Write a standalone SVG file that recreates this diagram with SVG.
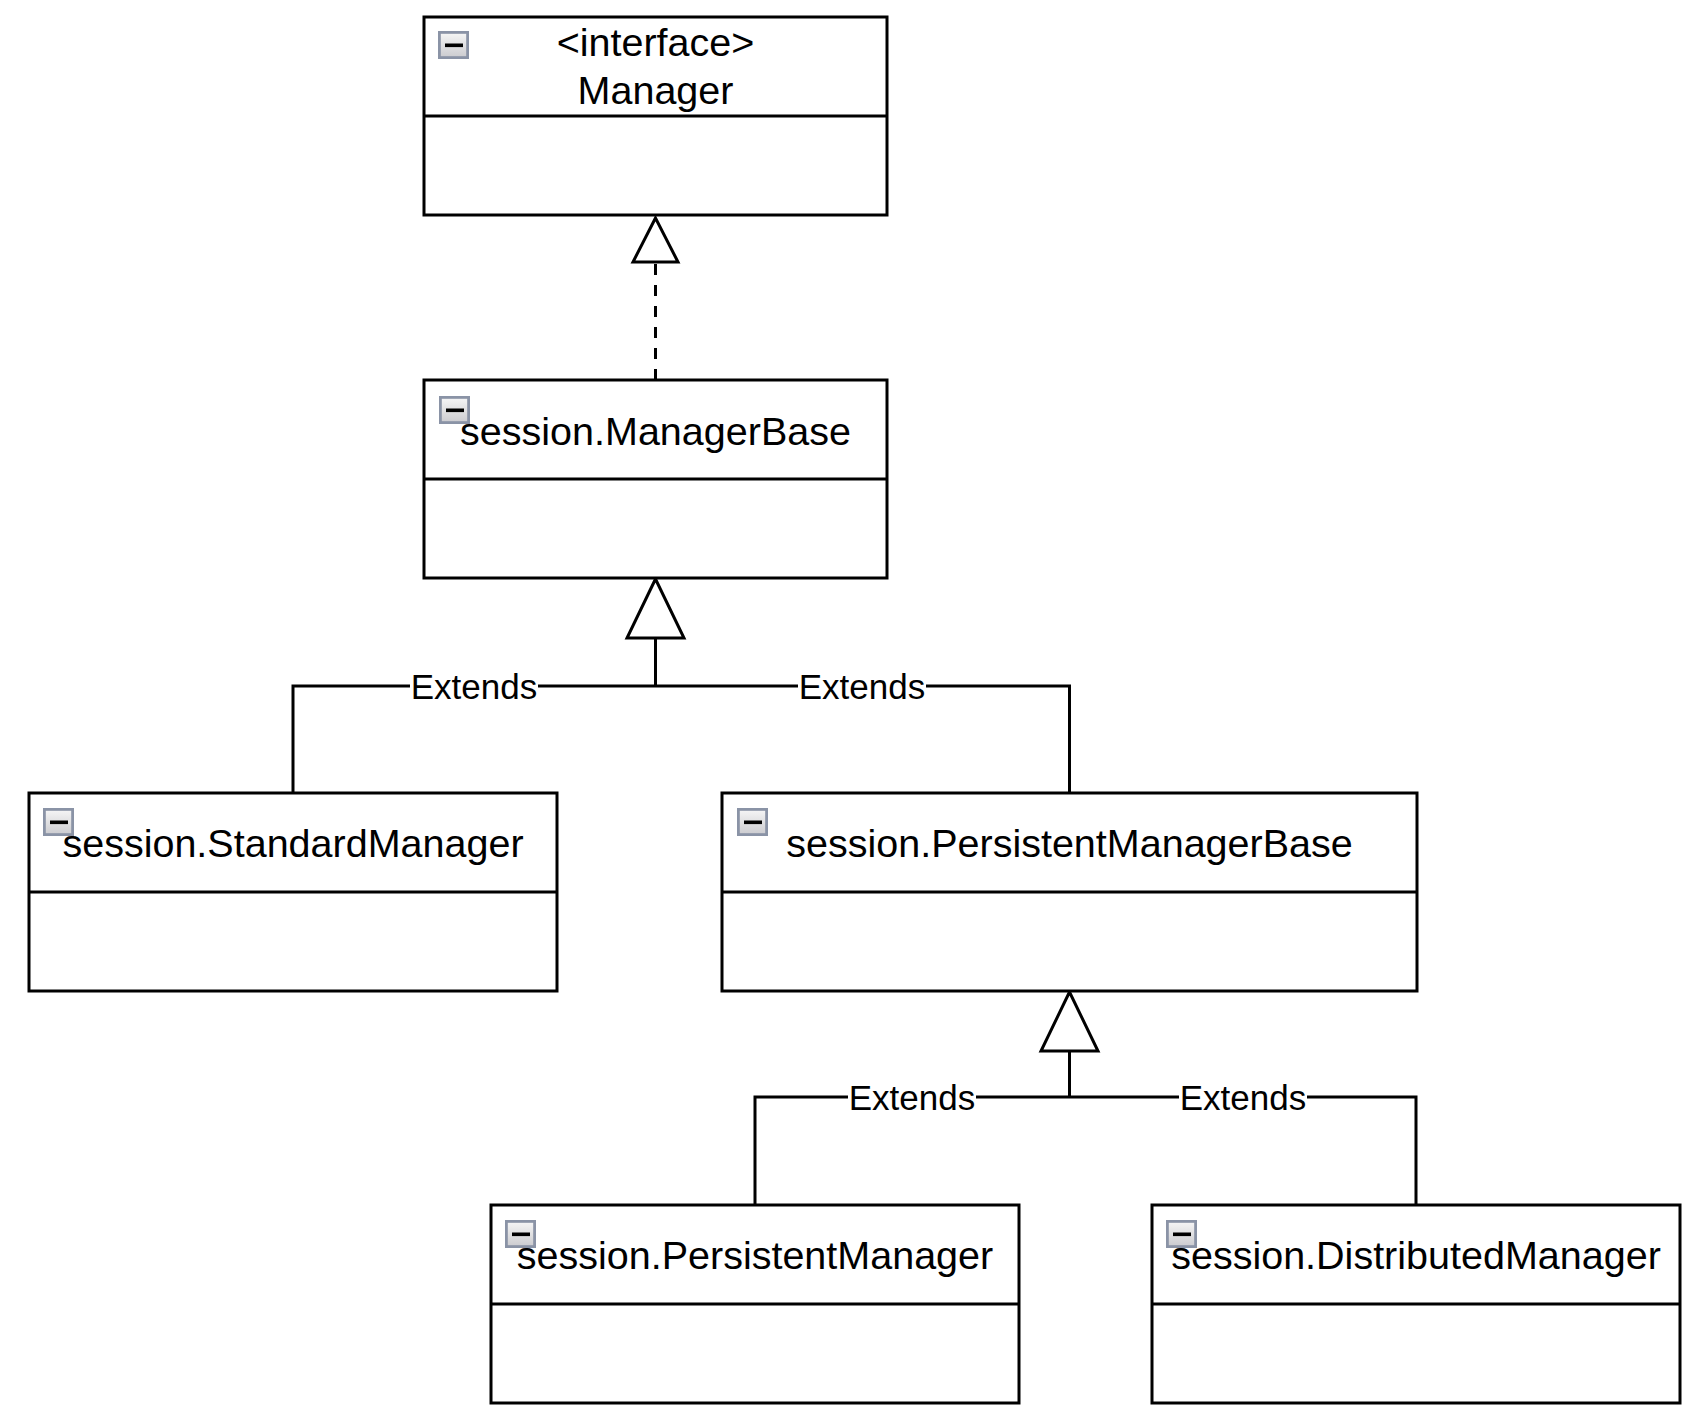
<svg xmlns="http://www.w3.org/2000/svg" width="1692" height="1426" viewBox="0 0 1692 1426">
<defs>
<linearGradient id="ig" x1="0" y1="0" x2="0" y2="1">
<stop offset="0" stop-color="#f6f6f6"/>
<stop offset="1" stop-color="#cbcbcf"/>
</linearGradient>
<g id="icon">
<rect x="1.4" y="1.4" width="28.2" height="25.2" fill="url(#ig)" stroke="#8a93a6" stroke-width="2.8"/>
<rect x="7" y="12.5" width="18" height="3.6" fill="#000"/>
</g>
</defs>
<style>
.box{fill:#fff;stroke:#000;stroke-width:3}
.div{stroke:#000;stroke-width:3;fill:none}
.t{font-family:"Liberation Sans",Arial,Helvetica,sans-serif;font-size:39.5px;fill:#000;text-anchor:middle}
.lbl{font-family:"Liberation Sans",Arial,Helvetica,sans-serif;font-size:35px;fill:#000;text-anchor:middle}
.edge{fill:none;stroke:#000;stroke-width:3}
.dash{stroke-dasharray:11 10}
.tri{fill:#fff;stroke:#000;stroke-width:3;stroke-linejoin:miter}
.lblbg{fill:#fff}
</style>
<rect width="1692" height="1426" fill="#fff"/>
<g id="connectors">
<path class="edge dash" d="M655.5 380 V262"/>
<polygon class="tri" points="655.5,218 633,262 678,262"/>
<path class="edge" d="M293 793 V686 H1069.5 V793"/>
<path class="edge" d="M655.5 638 V686"/>
<polygon class="tri" points="655.5,579 627,638 684,638"/>
<rect class="lblbg" x="410" y="670" width="128" height="32"/>
<text class="lbl" x="474" y="699">Extends</text>
<rect class="lblbg" x="798" y="670" width="128" height="32"/>
<text class="lbl" x="862" y="699">Extends</text>
<path class="edge" d="M755 1205 V1097 H1416 V1205"/>
<path class="edge" d="M1069.5 1051 V1097"/>
<polygon class="tri" points="1069.5,992 1041,1051 1098,1051"/>
<rect class="lblbg" x="848" y="1081" width="128" height="32"/>
<text class="lbl" x="912" y="1110">Extends</text>
<rect class="lblbg" x="1179" y="1081" width="128" height="32"/>
<text class="lbl" x="1243" y="1110">Extends</text>
</g>
<g id="node-manager">
<rect class="box" x="424" y="17" width="463" height="198"/>
<path class="div" d="M424 116 H887"/>
<use href="#icon" x="438" y="31"/>
<text class="t" x="655.5" y="56">&lt;interface&gt;</text>
<text class="t" x="655.5" y="104">Manager</text>
</g>
<g id="node-managerbase">
<rect class="box" x="424" y="380" width="463" height="198"/>
<path class="div" d="M424 479 H887"/>
<use href="#icon" x="439" y="396"/>
<text class="t" x="655.5" y="445">session.ManagerBase</text>
</g>
<g id="node-standardmanager">
<rect class="box" x="29" y="793" width="528" height="198"/>
<path class="div" d="M29 892 H557"/>
<use href="#icon" x="43" y="808"/>
<text class="t" x="293" y="857">session.StandardManager</text>
</g>
<g id="node-persistentmanagerbase">
<rect class="box" x="722" y="793" width="695" height="198"/>
<path class="div" d="M722 892 H1417"/>
<use href="#icon" x="737" y="808"/>
<text class="t" x="1069.5" y="857">session.PersistentManagerBase</text>
</g>
<g id="node-persistentmanager">
<rect class="box" x="491" y="1205" width="528" height="198"/>
<path class="div" d="M491 1304 H1019"/>
<use href="#icon" x="505" y="1220"/>
<text class="t" x="755" y="1269">session.PersistentManager</text>
</g>
<g id="node-distributedmanager">
<rect class="box" x="1152" y="1205" width="528" height="198"/>
<path class="div" d="M1152 1304 H1680"/>
<use href="#icon" x="1166" y="1220"/>
<text class="t" x="1416" y="1269">session.DistributedManager</text>
</g>
</svg>
